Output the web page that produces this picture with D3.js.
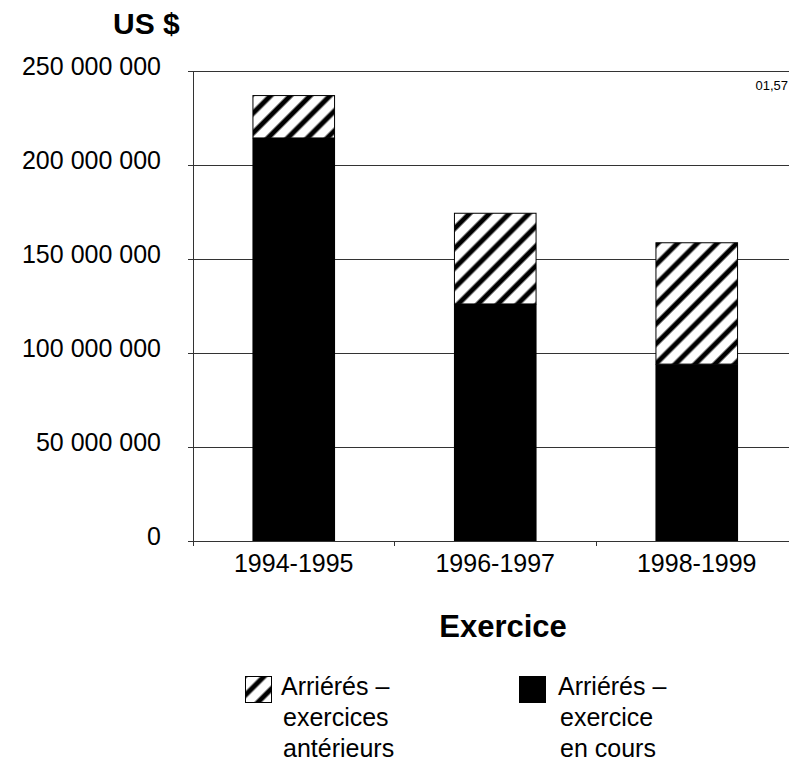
<!DOCTYPE html>
<html>
<head>
<meta charset="utf-8">
<script src="https://cdn.jsdelivr.net/npm/d3@7"></script>
<style>
  html, body { margin: 0; padding: 0; background: #fff; }
  svg { display: block; font-family: "Liberation Sans", Arial, sans-serif; }
</style>
</head>
<body>
<svg id="chart" width="789" height="762"></svg>
<script>
// ---- data ----
const categories = ["1994-1995", "1996-1997", "1998-1999"];
const currentYear = [214400000, 126100000, 94100000];   // Arriérés – exercice en cours
const priorYears  = [22800000, 48500000, 64800000];     // Arriérés – exercices antérieurs
const yTicks = [0, 50000000, 100000000, 150000000, 200000000, 250000000];
const legendLabels = [
  ["Arriérés –", "exercices", "antérieurs"],
  ["Arriérés –", "exercice", "en cours"]
];
const yTitle = "US $";
const xTitle = "Exercice";
const cornerNote = "01,57";

// ---- layout ----
const svg = d3.select("#chart");
const W = 789;
const x0 = 193, y0 = 541, yTop = 71;

const locale = d3.formatLocale({ decimal: ",", thousands: " ", grouping: [3], currency: ["", ""] });
const fmt = locale.format(",d");

const y = d3.scaleLinear().domain([0, 250000000]).range([y0, yTop]);
const x = d3.scaleBand().domain(categories).range([x0, x0 + 3 * 201.5])
  .paddingInner(0.59).paddingOuter(0.295);

// pattern
const defs = svg.append("defs");
const pat = defs.append("pattern").attr("id", "hatch")
  .attr("patternUnits", "userSpaceOnUse").attr("width", 14).attr("height", 14)
  .attr("patternTransform", "rotate(45)");
pat.append("rect").attr("width", 14).attr("height", 14).attr("fill", "#fff");
pat.append("line").attr("x1", 7).attr("y1", -1).attr("x2", 7).attr("y2", 15)
  .attr("stroke", "#000").attr("stroke-width", 5);

// gridlines
svg.append("g").selectAll("line").data(yTicks.filter(d => d > 0)).join("line")
  .attr("x1", x0).attr("x2", W)
  .attr("y1", d => y(d)).attr("y2", d => y(d))
  .attr("stroke", "#333").attr("stroke-width", 1).attr("shape-rendering", "crispEdges");

// bars
const data = categories.map((c, i) => ({ c, cur: currentYear[i], prior: priorYears[i] }));
const bars = svg.append("g");
bars.selectAll(".cur").data(data).join("rect").attr("class", "cur")
  .attr("x", d => x(d.c)).attr("width", x.bandwidth())
  .attr("y", d => y(d.cur)).attr("height", d => y(0) - y(d.cur))
  .attr("fill", "#000");
bars.selectAll(".prior").data(data).join("rect").attr("class", "prior")
  .attr("x", d => x(d.c) + 0.5).attr("width", x.bandwidth() - 1)
  .attr("y", d => y(d.cur + d.prior) + 0.5).attr("height", d => y(d.cur) - y(d.cur + d.prior) - 0.5)
  .attr("fill", "url(#hatch)").attr("stroke", "#000").attr("stroke-width", 1);

// y axis
const yAxis = d3.axisLeft(y).tickValues(yTicks).tickFormat(fmt).tickSize(5).tickPadding(27);
const gy = svg.append("g").attr("transform", `translate(${x0},0)`).call(yAxis);
gy.select(".domain").remove();
gy.selectAll(".tick line").attr("stroke", "#333").attr("shape-rendering", "crispEdges");
gy.selectAll(".tick text").attr("font-size", 25).attr("fill", "#000")
  .attr("dy", "0.12em").attr("font-family", "Liberation Sans, Arial, sans-serif");
svg.append("line").attr("x1", x0).attr("x2", x0).attr("y1", yTop).attr("y2", y0 + 5)
  .attr("stroke", "#333").attr("shape-rendering", "crispEdges");

// x axis
const xAxis = d3.axisBottom(x).tickSize(0).tickPadding(13);
const gx = svg.append("g").attr("transform", `translate(0,${y0})`).call(xAxis);
gx.select(".domain").remove();
gx.selectAll(".tick text").attr("font-size", 25).attr("fill", "#000")
  .attr("font-family", "Liberation Sans, Arial, sans-serif");
svg.append("line").attr("x1", x0 - 5).attr("x2", W).attr("y1", y0).attr("y2", y0)
  .attr("stroke", "#333").attr("shape-rendering", "crispEdges");
const gap = (x.step() - x.bandwidth()) / 2;
svg.append("g").selectAll("line").data(categories.slice(1)).join("line")
  .attr("x1", d => x(d) - gap).attr("x2", d => x(d) - gap)
  .attr("y1", y0).attr("y2", y0 + 5)
  .attr("stroke", "#333").attr("shape-rendering", "crispEdges");

// titles
svg.append("text").attr("x", 113).attr("y", 34).attr("font-size", 30).attr("font-weight", "bold")
  .text(yTitle);
svg.append("text").attr("x", 503).attr("y", 637).attr("text-anchor", "middle")
  .attr("font-size", 31).attr("font-weight", "bold").text(xTitle);
svg.append("text").attr("x", 788).attr("y", 90).attr("text-anchor", "end")
  .attr("font-size", 13).text(cornerNote);

// legend
const legendItems = [
  { sx: 245, tx: 281, fill: "url(#hatch)", lines: legendLabels[0] },
  { sx: 519, tx: 558, fill: "#000", lines: legendLabels[1] }
];
const lg = svg.append("g");
legendItems.forEach(it => {
  lg.append("rect").attr("x", it.sx + 0.5).attr("y", 676.5).attr("width", 26).attr("height", 26)
    .attr("fill", it.fill).attr("stroke", "#000").attr("stroke-width", 1);
  const t = lg.append("text").attr("font-size", 25);
  it.lines.forEach((ln, i) => {
    t.append("tspan").attr("x", i === 0 ? it.tx : it.tx + 2).attr("y", 695 + i * 31).text(ln);
  });
});
</script>
</body>
</html>
